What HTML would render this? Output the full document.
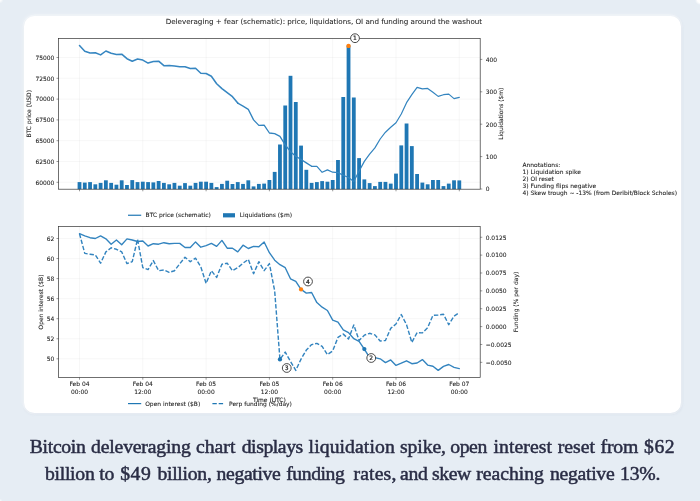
<!DOCTYPE html>
<html lang="en">
<head>
<meta charset="utf-8">
<title>Bitcoin deleveraging chart</title>
<style>
html,body{margin:0;padding:0}
body{width:700px;height:501px;overflow:hidden;position:relative;background:#e6edf4;}
.card{position:absolute;left:23.6px;top:16px;width:657px;height:396.5px;background:#fff;border-radius:10.5px;box-shadow:0 0 0 1.5px rgba(255,255,255,.3),0.5px 1px 3px rgba(140,155,185,.2),-1px -1px 4px rgba(255,255,255,.4);}
.c{position:absolute;width:8px;height:8px}
.tl{left:0;top:0;background:radial-gradient(circle at 0 0,#fff 0,rgba(255,255,255,.7) 1.2px,rgba(255,255,255,0) 3.5px)}
.tr{right:0;top:0;background:radial-gradient(circle at 100% 0,#fff 0,#fff 2.5px,rgba(255,255,255,0) 5px)}
.bl{left:0;bottom:0;background:radial-gradient(circle at 0 100%,rgba(255,255,255,.8) 0,rgba(255,255,255,0) 2.5px)}
svg text{stroke:#1c1c1c;stroke-width:0.08px}
svg text.t{stroke-width:0.05px}
svg text.n{stroke-width:0.2px}
.cap{position:absolute;left:0;top:0;width:700px;margin:0;font-family:"Liberation Serif",serif;font-size:19.7px;line-height:26px;color:#2a2d45;-webkit-text-stroke:0.5px #2a2d45;white-space:nowrap}
.cap span{position:absolute;display:block}
.cap .a{top:432.8px}
.cap .b{top:459.6px}
</style>
</head>
<body>
<div class="c tl"></div><div class="c tr"></div><div class="c bl"></div>
<div class="card"></div>
<svg width="700" height="501" viewBox="0 0 700 501" style="position:absolute;left:0;top:0;filter:blur(0.4px)" font-family="'DejaVu Sans','Liberation Sans',sans-serif" font-size="5.96" fill="#1c1c1c">
<text class="t" x="323.9" y="23.8" font-size="7.15" text-anchor="middle">Deleveraging + fear (schematic): price, liquidations, OI and funding around the washout</text>
<g stroke="#b0b0b0" stroke-opacity="0.22" stroke-width="0.48">
<line x1="79.50" y1="38.6" x2="79.50" y2="189.2"/>
<line x1="142.80" y1="38.6" x2="142.80" y2="189.2"/>
<line x1="206.10" y1="38.6" x2="206.10" y2="189.2"/>
<line x1="269.40" y1="38.6" x2="269.40" y2="189.2"/>
<line x1="332.70" y1="38.6" x2="332.70" y2="189.2"/>
<line x1="396.00" y1="38.6" x2="396.00" y2="189.2"/>
<line x1="459.30" y1="38.6" x2="459.30" y2="189.2"/>
<line x1="58.6" y1="57.50" x2="480.2" y2="57.50"/>
<line x1="58.6" y1="78.30" x2="480.2" y2="78.30"/>
<line x1="58.6" y1="99.10" x2="480.2" y2="99.10"/>
<line x1="58.6" y1="119.90" x2="480.2" y2="119.90"/>
<line x1="58.6" y1="140.70" x2="480.2" y2="140.70"/>
<line x1="58.6" y1="161.50" x2="480.2" y2="161.50"/>
<line x1="58.6" y1="182.30" x2="480.2" y2="182.30"/>
</g>
<g fill="#1f77b4">
<rect x="77.60" y="182.10" width="3.8" height="7.10"/>
<rect x="82.88" y="182.60" width="3.8" height="6.60"/>
<rect x="88.15" y="182.10" width="3.8" height="7.10"/>
<rect x="93.42" y="184.30" width="3.8" height="4.90"/>
<rect x="98.70" y="182.90" width="3.8" height="6.30"/>
<rect x="103.97" y="180.30" width="3.8" height="8.90"/>
<rect x="109.25" y="182.90" width="3.8" height="6.30"/>
<rect x="114.53" y="184.70" width="3.8" height="4.50"/>
<rect x="119.80" y="180.30" width="3.8" height="8.90"/>
<rect x="125.07" y="185.00" width="3.8" height="4.20"/>
<rect x="130.35" y="180.10" width="3.8" height="9.10"/>
<rect x="135.62" y="182.10" width="3.8" height="7.10"/>
<rect x="140.90" y="181.70" width="3.8" height="7.50"/>
<rect x="146.17" y="182.10" width="3.8" height="7.10"/>
<rect x="151.45" y="182.40" width="3.8" height="6.80"/>
<rect x="156.72" y="181.00" width="3.8" height="8.20"/>
<rect x="162.00" y="182.90" width="3.8" height="6.30"/>
<rect x="167.28" y="184.30" width="3.8" height="4.90"/>
<rect x="172.55" y="182.90" width="3.8" height="6.30"/>
<rect x="177.83" y="185.70" width="3.8" height="3.50"/>
<rect x="183.10" y="183.10" width="3.8" height="6.10"/>
<rect x="188.38" y="185.70" width="3.8" height="3.50"/>
<rect x="193.65" y="182.90" width="3.8" height="6.30"/>
<rect x="198.92" y="181.70" width="3.8" height="7.50"/>
<rect x="204.20" y="181.70" width="3.8" height="7.50"/>
<rect x="209.47" y="182.90" width="3.8" height="6.30"/>
<rect x="214.75" y="187.10" width="3.8" height="2.10"/>
<rect x="220.03" y="183.90" width="3.8" height="5.30"/>
<rect x="225.30" y="180.70" width="3.8" height="8.50"/>
<rect x="230.58" y="184.00" width="3.8" height="5.20"/>
<rect x="235.85" y="182.10" width="3.8" height="7.10"/>
<rect x="241.12" y="183.90" width="3.8" height="5.30"/>
<rect x="246.40" y="180.30" width="3.8" height="8.90"/>
<rect x="251.68" y="186.40" width="3.8" height="2.80"/>
<rect x="256.95" y="183.90" width="3.8" height="5.30"/>
<rect x="262.23" y="183.60" width="3.8" height="5.60"/>
<rect x="267.50" y="180.00" width="3.8" height="9.20"/>
<rect x="272.78" y="171.90" width="3.8" height="17.30"/>
<rect x="278.05" y="144.50" width="3.8" height="44.70"/>
<rect x="283.33" y="105.50" width="3.8" height="83.70"/>
<rect x="288.60" y="75.80" width="3.8" height="113.40"/>
<rect x="293.88" y="102.00" width="3.8" height="87.20"/>
<rect x="299.15" y="145.60" width="3.8" height="43.60"/>
<rect x="304.43" y="169.80" width="3.8" height="19.40"/>
<rect x="309.70" y="182.90" width="3.8" height="6.30"/>
<rect x="314.98" y="182.10" width="3.8" height="7.10"/>
<rect x="320.25" y="181.10" width="3.8" height="8.10"/>
<rect x="325.53" y="181.70" width="3.8" height="7.50"/>
<rect x="330.80" y="180.00" width="3.8" height="9.20"/>
<rect x="336.08" y="160.00" width="3.8" height="29.20"/>
<rect x="341.35" y="97.00" width="3.8" height="92.20"/>
<rect x="346.63" y="45.50" width="3.8" height="143.70"/>
<rect x="351.90" y="97.50" width="3.8" height="91.70"/>
<rect x="357.18" y="158.10" width="3.8" height="31.10"/>
<rect x="362.45" y="179.40" width="3.8" height="9.80"/>
<rect x="367.73" y="183.10" width="3.8" height="6.10"/>
<rect x="373.00" y="186.10" width="3.8" height="3.10"/>
<rect x="378.28" y="181.90" width="3.8" height="7.30"/>
<rect x="383.55" y="181.90" width="3.8" height="7.30"/>
<rect x="388.83" y="183.60" width="3.8" height="5.60"/>
<rect x="394.10" y="173.60" width="3.8" height="15.60"/>
<rect x="399.38" y="145.40" width="3.8" height="43.80"/>
<rect x="404.65" y="123.50" width="3.8" height="65.70"/>
<rect x="409.93" y="146.10" width="3.8" height="43.10"/>
<rect x="415.20" y="174.00" width="3.8" height="15.20"/>
<rect x="420.48" y="182.60" width="3.8" height="6.60"/>
<rect x="425.75" y="184.30" width="3.8" height="4.90"/>
<rect x="431.03" y="180.00" width="3.8" height="9.20"/>
<rect x="436.30" y="180.00" width="3.8" height="9.20"/>
<rect x="441.58" y="186.10" width="3.8" height="3.10"/>
<rect x="446.85" y="183.60" width="3.8" height="5.60"/>
<rect x="452.13" y="180.30" width="3.8" height="8.90"/>
<rect x="457.40" y="180.40" width="3.8" height="8.80"/>
</g>
<polyline points="79.50,45.50 84.78,51.20 90.05,53.00 95.33,52.70 100.60,54.90 105.88,51.00 111.15,53.30 116.43,54.50 121.70,54.20 126.97,58.70 132.25,61.20 137.53,59.00 142.80,60.10 148.07,63.10 153.35,61.60 158.62,61.20 163.90,65.70 169.18,65.40 174.45,66.00 179.73,66.80 185.00,66.80 190.28,68.60 195.55,68.30 200.82,73.20 206.10,73.50 211.38,76.20 216.65,83.70 221.93,88.60 227.20,92.70 232.48,96.70 237.75,103.10" fill="none" stroke="#3686c1" stroke-width="1.55" stroke-linejoin="round" stroke-linecap="round"/>
<polyline points="237.75,103.10 243.03,106.10 248.30,109.40 253.58,119.90 258.85,125.40 264.12,125.20 269.40,133.00 274.68,133.70 279.95,136.40 285.23,144.90 290.50,151.70 295.77,156.20 301.05,159.50 306.33,162.90 311.60,166.30" fill="none" stroke="#3384bf" stroke-width="1.3" stroke-linejoin="round" stroke-linecap="round"/>
<polyline points="311.60,166.30 316.88,166.30 322.15,172.30 327.43,169.90 332.70,172.20 337.98,172.60 343.25,175.30 348.53,177.50 353.80,181.60 359.08,171.10 364.35,161.40 369.62,154.20 374.90,147.90 380.18,139.00 385.45,132.20 390.73,127.30 396.00,122.70 401.28,114.00 406.55,102.70 411.83,94.70 417.10,87.40 422.38,88.90 427.65,88.40 432.93,92.20 438.20,96.40 443.48,94.70 448.75,94.10 454.03,98.60 459.30,97.40" fill="none" stroke="#3384bf" stroke-width="1.2" stroke-linejoin="round" stroke-linecap="round"/>
<rect x="58.6" y="38.6" width="421.60" height="150.60" fill="none" stroke="#333" stroke-width="0.7"/>
<g stroke="#333" stroke-width="0.5">
<line x1="79.50" y1="189.2" x2="79.50" y2="191.29999999999998"/>
<line x1="142.80" y1="189.2" x2="142.80" y2="191.29999999999998"/>
<line x1="206.10" y1="189.2" x2="206.10" y2="191.29999999999998"/>
<line x1="269.40" y1="189.2" x2="269.40" y2="191.29999999999998"/>
<line x1="332.70" y1="189.2" x2="332.70" y2="191.29999999999998"/>
<line x1="396.00" y1="189.2" x2="396.00" y2="191.29999999999998"/>
<line x1="459.30" y1="189.2" x2="459.30" y2="191.29999999999998"/>
<line x1="56.5" y1="57.50" x2="58.6" y2="57.50"/>
<line x1="56.5" y1="78.30" x2="58.6" y2="78.30"/>
<line x1="56.5" y1="99.10" x2="58.6" y2="99.10"/>
<line x1="56.5" y1="119.90" x2="58.6" y2="119.90"/>
<line x1="56.5" y1="140.70" x2="58.6" y2="140.70"/>
<line x1="56.5" y1="161.50" x2="58.6" y2="161.50"/>
<line x1="56.5" y1="182.30" x2="58.6" y2="182.30"/>
<line x1="480.2" y1="189.00" x2="482.3" y2="189.00"/>
<line x1="480.2" y1="156.60" x2="482.3" y2="156.60"/>
<line x1="480.2" y1="124.20" x2="482.3" y2="124.20"/>
<line x1="480.2" y1="91.80" x2="482.3" y2="91.80"/>
<line x1="480.2" y1="59.40" x2="482.3" y2="59.40"/>
</g>
<text x="54.40" y="59.70" text-anchor="end">75000</text>
<text x="54.40" y="80.50" text-anchor="end">72500</text>
<text x="54.40" y="101.30" text-anchor="end">70000</text>
<text x="54.40" y="122.10" text-anchor="end">67500</text>
<text x="54.40" y="142.90" text-anchor="end">65000</text>
<text x="54.40" y="163.70" text-anchor="end">62500</text>
<text x="54.40" y="184.50" text-anchor="end">60000</text>
<text x="485.70" y="191.35">0</text>
<text x="485.70" y="158.95">100</text>
<text x="485.70" y="126.55">200</text>
<text x="485.70" y="94.15">300</text>
<text x="485.70" y="61.75">400</text>
<circle cx="348.53" cy="45.9" r="2.2" fill="#ff7f0e"/>
<text transform="translate(31.1,113.75) rotate(-90)" text-anchor="middle">BTC price (USD)</text>
<text transform="translate(503.2,113.75) rotate(-90)" text-anchor="middle">Liquidations ($m)</text>
<line x1="128" y1="215.25" x2="141.2" y2="215.25" stroke="#1f77b4" stroke-width="1.2"/>
<text x="145.6" y="217.4">BTC price (schematic)</text>
<rect x="223" y="213.2" width="12" height="4.2" fill="#1f77b4"/>
<text x="239.8" y="217.4">Liquidations ($m)</text>
<g stroke="#b0b0b0" stroke-opacity="0.22" stroke-width="0.48">
<line x1="79.50" y1="226.5" x2="79.50" y2="377.6"/>
<line x1="142.80" y1="226.5" x2="142.80" y2="377.6"/>
<line x1="206.10" y1="226.5" x2="206.10" y2="377.6"/>
<line x1="269.40" y1="226.5" x2="269.40" y2="377.6"/>
<line x1="332.70" y1="226.5" x2="332.70" y2="377.6"/>
<line x1="396.00" y1="226.5" x2="396.00" y2="377.6"/>
<line x1="459.30" y1="226.5" x2="459.30" y2="377.6"/>
<line x1="58.6" y1="238.50" x2="480.2" y2="238.50"/>
<line x1="58.6" y1="258.55" x2="480.2" y2="258.55"/>
<line x1="58.6" y1="278.60" x2="480.2" y2="278.60"/>
<line x1="58.6" y1="298.65" x2="480.2" y2="298.65"/>
<line x1="58.6" y1="318.70" x2="480.2" y2="318.70"/>
<line x1="58.6" y1="338.75" x2="480.2" y2="338.75"/>
<line x1="58.6" y1="358.80" x2="480.2" y2="358.80"/>
</g>
<polyline points="79.50,233.70 84.78,235.80 90.05,237.70 95.33,238.50 100.60,235.90 105.88,238.80 111.15,244.20 116.43,240.00 121.70,244.80 126.97,238.90 132.25,240.00 137.53,241.50 142.80,241.00 148.07,246.00 153.35,243.70 158.62,244.20 163.90,242.70 169.18,243.80 174.45,243.40 179.73,243.40 185.00,247.50 190.28,247.50 195.55,241.90 200.82,247.20 206.10,245.70 211.38,243.40 216.65,246.40 221.93,240.40 227.20,248.20 232.48,248.20 237.75,251.90 243.03,245.20 248.30,248.50 253.58,246.40 258.85,246.70 264.12,242.00 269.40,252.70 274.68,260.20 279.95,264.70 285.23,267.70 290.50,278.80 295.77,281.30 301.05,289.40 306.33,293.10 311.60,292.50 316.88,302.60 322.15,307.20 327.43,310.50 332.70,320.20 337.98,322.20 343.25,329.90 348.53,332.60 353.80,338.70 359.08,341.40 364.35,349.10 369.62,357.60 374.90,357.60 380.18,358.80 385.45,362.60 390.73,359.90 396.00,365.40 401.28,363.20 406.55,360.80 411.83,363.70 417.10,363.00 422.38,359.60 427.65,365.10 432.93,366.20 438.20,370.40 443.48,366.40 448.75,364.50 454.03,367.40 459.30,368.60" fill="none" stroke="#3384bf" stroke-width="1.38" stroke-linejoin="round" stroke-linecap="round"/>
<polyline points="79.50,233.70 84.78,253.40 90.05,254.20 95.33,254.90 100.60,263.20 105.88,251.90 111.15,247.80 116.43,249.30 121.70,251.90 126.97,263.60 132.25,261.70 137.53,239.20 142.80,267.70 148.07,269.60 153.35,260.60 158.62,270.70 163.90,269.90 169.18,272.40 174.45,270.70 179.73,263.90 185.00,257.20 190.28,261.70 195.55,258.20 200.82,266.90 206.10,283.40 211.38,270.70 216.65,277.40 221.93,264.20 227.20,263.20 232.48,270.70 237.75,267.70 243.03,263.20 248.30,259.40 253.58,273.70 258.85,261.70 264.12,270.70 269.40,263.60 274.68,291.00 279.95,359.40 285.23,352.10 290.50,361.40 295.77,370.40 301.05,359.10 306.33,350.10 311.60,344.60 316.88,343.40 322.15,346.40 327.43,354.60 332.70,350.90 337.98,337.40 343.25,334.10 348.53,338.90 353.80,324.90 359.08,340.40 364.35,335.20 369.62,333.30 374.90,334.90 380.18,341.00 385.45,340.50 390.73,328.40 396.00,324.00 401.28,314.50 406.55,324.70 411.83,342.40 417.10,332.60 422.38,332.90 427.65,327.70 432.93,315.40 438.20,315.00 443.48,314.20 448.75,324.70 454.03,316.20 459.30,312.70" fill="none" stroke="#3384bf" stroke-width="1.42" stroke-dasharray="4.4 1.9" stroke-linejoin="round"/>
<rect x="58.6" y="226.5" width="421.60" height="151.10" fill="none" stroke="#333" stroke-width="0.7"/>
<g stroke="#333" stroke-width="0.5">
<line x1="79.50" y1="377.6" x2="79.50" y2="379.70000000000005"/>
<line x1="142.80" y1="377.6" x2="142.80" y2="379.70000000000005"/>
<line x1="206.10" y1="377.6" x2="206.10" y2="379.70000000000005"/>
<line x1="269.40" y1="377.6" x2="269.40" y2="379.70000000000005"/>
<line x1="332.70" y1="377.6" x2="332.70" y2="379.70000000000005"/>
<line x1="396.00" y1="377.6" x2="396.00" y2="379.70000000000005"/>
<line x1="459.30" y1="377.6" x2="459.30" y2="379.70000000000005"/>
<line x1="56.5" y1="238.50" x2="58.6" y2="238.50"/>
<line x1="56.5" y1="258.55" x2="58.6" y2="258.55"/>
<line x1="56.5" y1="278.60" x2="58.6" y2="278.60"/>
<line x1="56.5" y1="298.65" x2="58.6" y2="298.65"/>
<line x1="56.5" y1="318.70" x2="58.6" y2="318.70"/>
<line x1="56.5" y1="338.75" x2="58.6" y2="338.75"/>
<line x1="56.5" y1="358.80" x2="58.6" y2="358.80"/>
<line x1="480.2" y1="237.25" x2="482.3" y2="237.25"/>
<line x1="480.2" y1="255.12" x2="482.3" y2="255.12"/>
<line x1="480.2" y1="272.99" x2="482.3" y2="272.99"/>
<line x1="480.2" y1="290.86" x2="482.3" y2="290.86"/>
<line x1="480.2" y1="308.73" x2="482.3" y2="308.73"/>
<line x1="480.2" y1="326.60" x2="482.3" y2="326.60"/>
<line x1="480.2" y1="344.47" x2="482.3" y2="344.47"/>
<line x1="480.2" y1="362.34" x2="482.3" y2="362.34"/>
</g>
<text x="54.40" y="240.70" text-anchor="end">62</text>
<text x="54.40" y="260.75" text-anchor="end">60</text>
<text x="54.40" y="280.80" text-anchor="end">58</text>
<text x="54.40" y="300.85" text-anchor="end">56</text>
<text x="54.40" y="320.90" text-anchor="end">54</text>
<text x="54.40" y="340.95" text-anchor="end">52</text>
<text x="54.40" y="361.00" text-anchor="end">50</text>
<text x="485.70" y="239.60">0.0125</text>
<text x="485.70" y="257.47">0.0100</text>
<text x="485.70" y="275.34">0.0075</text>
<text x="485.70" y="293.21">0.0050</text>
<text x="485.70" y="311.08">0.0025</text>
<text x="485.70" y="328.95">0.0000</text>
<text x="485.70" y="346.82">−0.0025</text>
<text x="485.70" y="364.69">−0.0050</text>
<text x="79.50" y="386.20" text-anchor="middle">Feb 04</text>
<text x="79.50" y="393.50" text-anchor="middle">00:00</text>
<text x="142.80" y="386.20" text-anchor="middle">Feb 04</text>
<text x="142.80" y="393.50" text-anchor="middle">12:00</text>
<text x="206.10" y="386.20" text-anchor="middle">Feb 05</text>
<text x="206.10" y="393.50" text-anchor="middle">00:00</text>
<text x="269.40" y="386.20" text-anchor="middle">Feb 05</text>
<text x="269.40" y="393.50" text-anchor="middle">12:00</text>
<text x="332.70" y="386.20" text-anchor="middle">Feb 06</text>
<text x="332.70" y="393.50" text-anchor="middle">00:00</text>
<text x="396.00" y="386.20" text-anchor="middle">Feb 06</text>
<text x="396.00" y="393.50" text-anchor="middle">12:00</text>
<text x="459.30" y="386.20" text-anchor="middle">Feb 07</text>
<text x="459.30" y="393.50" text-anchor="middle">00:00</text>
<circle cx="301.05" cy="289.4" r="2.15" fill="#ff7f0e"/>
<circle cx="279.95" cy="359.4" r="2.15" fill="#1f77b4"/>
<circle cx="364.35" cy="349.1" r="2.15" fill="#1f77b4"/>
<text transform="translate(43.1,302) rotate(-90)" text-anchor="middle">Open interest ($B)</text>
<text transform="translate(518.4,302) rotate(-90)" text-anchor="middle">Funding (% per day)</text>
<text x="269.4" y="402.0" text-anchor="middle">Time (UTC)</text>
<line x1="128" y1="403.6" x2="141.2" y2="403.6" stroke="#1f77b4" stroke-width="1.2"/>
<text x="145.2" y="405.6">Open interest ($B)</text>
<line x1="212.4" y1="403.6" x2="224" y2="403.6" stroke="#1f77b4" stroke-width="1.2" stroke-dasharray="4.4 1.9"/>
<text x="229" y="405.6">Perp funding (%/day)</text>
<circle cx="355" cy="38.2" r="4.4" fill="#fff" stroke="#2b2b2b" stroke-width="0.85"/>
<text x="355" y="40.35" class="n" font-size="6" text-anchor="middle">1</text>
<circle cx="371.25" cy="358" r="4.4" fill="#fff" stroke="#2b2b2b" stroke-width="0.85"/>
<text x="371.25" y="360.15" class="n" font-size="6" text-anchor="middle">2</text>
<circle cx="286.75" cy="368" r="4.4" fill="#fff" stroke="#2b2b2b" stroke-width="0.85"/>
<text x="286.75" y="370.15" class="n" font-size="6" text-anchor="middle">3</text>
<circle cx="308" cy="281.5" r="4.4" fill="#fff" stroke="#2b2b2b" stroke-width="0.85"/>
<text x="308" y="283.65" class="n" font-size="6" text-anchor="middle">4</text>
<text x="522.5" y="167.20">Annotations:</text>
<text x="522.5" y="174.20">1) Liquidation spike</text>
<text x="522.5" y="181.20">2) OI reset</text>
<text x="522.5" y="188.20">3) Funding flips negative</text>
<text x="522.5" y="195.20">4) Skew trough ~ -13% (from Deribit/Block Scholes)</text>
</svg>
<p class="cap"><span class="a" style="left:29.80px;letter-spacing:-0.320px">Bitcoin</span> <span class="a" style="left:91.10px;letter-spacing:-0.184px">deleveraging</span> <span class="a" style="left:196.00px;letter-spacing:0.006px">chart</span> <span class="a" style="left:241.70px;letter-spacing:-0.424px">displays</span> <span class="a" style="left:308.60px;letter-spacing:0.084px">liquidation</span> <span class="a" style="left:400.00px;letter-spacing:-0.091px">spike,</span> <span class="a" style="left:450.30px;letter-spacing:-0.442px">open</span> <span class="a" style="left:493.40px;letter-spacing:0.103px">interest</span> <span class="a" style="left:557.70px;letter-spacing:0.001px">reset</span> <span class="a" style="left:600.50px;letter-spacing:-0.119px">from</span> <span class="a" style="left:644.11px;letter-spacing:0.500px">$62</span>
<span class="b" style="left:44.90px;letter-spacing:-0.261px">billion</span> <span class="b" style="left:99.20px;letter-spacing:-0.070px">to</span> <span class="b" style="left:120.30px;letter-spacing:0.456px">$49</span> <span class="b" style="left:157.40px;letter-spacing:-0.273px">billion,</span> <span class="b" style="left:216.60px;letter-spacing:-0.350px">negative</span> <span class="b" style="left:286.25px;letter-spacing:-0.450px">funding</span> <span class="b" style="left:353.50px;letter-spacing:0.147px">rates,</span> <span class="b" style="left:400.00px;letter-spacing:-0.291px">and</span> <span class="b" style="left:432.06px;letter-spacing:-0.450px">skew</span> <span class="b" style="left:476.30px;letter-spacing:-0.033px">reaching</span> <span class="b" style="left:550.00px;letter-spacing:-0.292px">negative</span> <span class="b" style="left:620.10px;letter-spacing:-0.229px">13%.</span></p>
</body>
</html>
